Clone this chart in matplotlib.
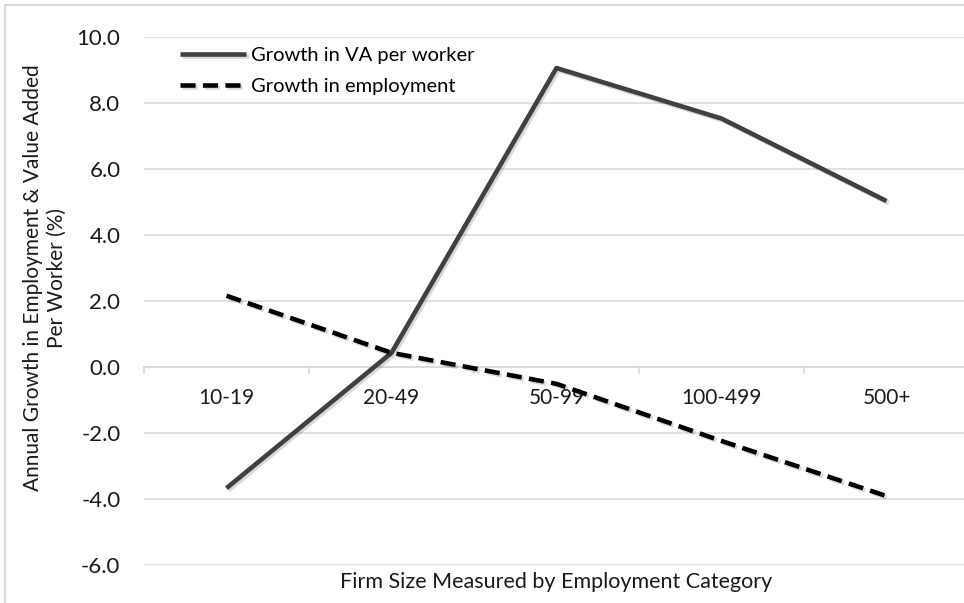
import matplotlib

matplotlib.use("Agg")
import matplotlib.pyplot as plt
import matplotlib.patheffects as pe
from matplotlib.patches import Rectangle

categories = ["10-19", "20-49", "50-99", "100-499", "500+"]
va_per_worker = [-3.68, 0.42, 9.05, 7.52, 5.02]
employment = [2.15, 0.42, -0.52, -2.25, -3.92]
y_ticks = [-6, -4, -2, 0, 2, 4, 6, 8, 10]

plt.rcParams["font.family"] = ["Lato", "DejaVu Sans"]

W, H = 964, 603
fig = plt.figure(figsize=(W / 100, H / 100), dpi=100)
ax = fig.add_axes([144 / W, 1 - 564.7 / H, (969 - 144) / W, (564.7 - 36.7) / H])

# outer chart frame (light grey)
fig.patches.append(Rectangle((5 / W, -0.05), 1.1, 1 - 5 / H + 0.05, transform=fig.transFigure,
                             fill=False, edgecolor="#d9d9d9", linewidth=1.5))

x = list(range(len(categories)))
shadow = [pe.SimpleLineShadow(offset=(1.5, -1.5), alpha=0.15, shadow_color="black"), pe.Normal()]

ax.plot(x, va_per_worker, color="#404040", linewidth=3.3, solid_capstyle="butt",
        label="Growth in VA per worker", path_effects=shadow, zorder=3)
ax.plot(x, employment, color="black", linewidth=3.3, linestyle=(0, (3.3, 1.6)),
        dash_capstyle="butt", label="Growth in employment", path_effects=shadow, zorder=3)

ax.set_xlim(-0.5, len(categories) - 0.5)
ax.set_ylim(-6, 10)
ax.set_yticks(y_ticks)
ax.set_yticklabels([f"{v:.1f}" for v in y_ticks])
ax.grid(axis="y", color="#d9d9d9", linewidth=1.1)
ax.set_axisbelow(True)

for side in ["left", "right", "top"]:
    ax.spines[side].set_visible(False)
ax.spines["bottom"].set_position(("data", 0))
ax.spines["bottom"].set_color("#d9d9d9")
ax.spines["bottom"].set_linewidth(1.1)

ax.set_xticks(x)
ax.set_xticklabels(categories)
ax.set_xticks([i + 0.5 for i in range(-1, len(categories))], minor=True)
ax.tick_params(axis="x", which="major", length=0, pad=15, labelsize=15, labelcolor="#1a1a1a")
ax.tick_params(axis="x", which="minor", length=5, width=1.1, color="#d9d9d9", direction="out")
ax.tick_params(axis="y", length=0, pad=17, labelsize=16, labelcolor="#1a1a1a")

fig.text(45 / W, 1 - 278 / H, "Annual Growth in Employment & Value Added\nPer Worker (%)",
         rotation=90, ha="center", va="center", fontsize=15, color="#1a1a1a", linespacing=1.2)
fig.text(556 / W, 1 - 582 / H, "Firm Size Measured by Employment Category",
         ha="center", va="center", fontsize=15.5, color="#1a1a1a")

ax.legend(loc="upper left", bbox_to_anchor=(180 / W, 1 - 47 / H), bbox_transform=fig.transFigure,
          frameon=False, fontsize=14.5, handlelength=3.3, handletextpad=0.25, labelspacing=0.7,
          borderpad=0, borderaxespad=0)

fig.savefig("out.png", dpi=100, facecolor="white")
